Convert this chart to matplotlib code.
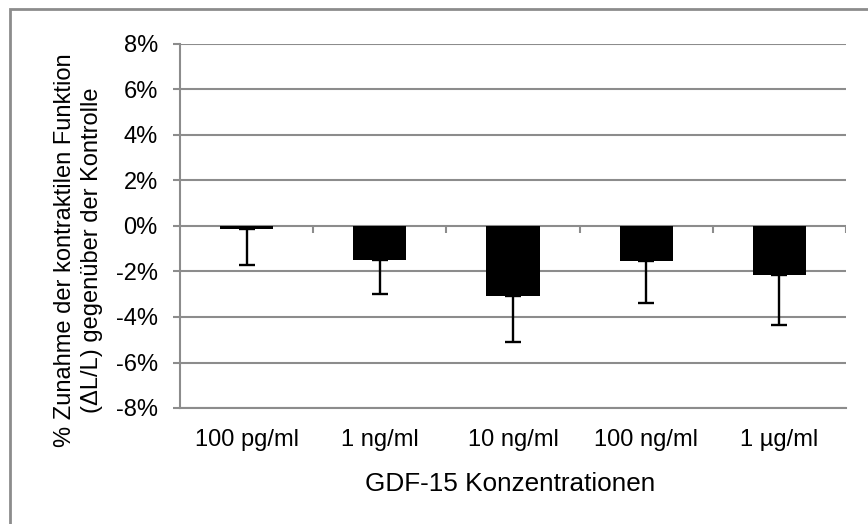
import matplotlib
matplotlib.use("Agg")
from matplotlib import pyplot as plt
from matplotlib.patches import Rectangle
from matplotlib.ticker import FuncFormatter, MultipleLocator
import numpy as np

plt.rcParams['font.family'] = ['Liberation Sans', 'DejaVu Sans']

# Änderung der kontraktilen Funktion je GDF-15 Konzentration (in %)
konzentrationen = ["100 pg/ml", "1 ng/ml", "10 ng/ml", "100 ng/ml", "1 µg/ml"]
mittelwerte = [-0.13, -1.49, -3.08, -1.53, -2.15]
fehler = [1.58, 1.49, 2.04, 1.86, 2.22]

grau = "#8c8c8c"

fig = plt.figure(figsize=(8.68, 5.24), dpi=100)
ax = fig.add_axes([180/868, 1-408/524, 666/868, 364/524])

x = np.arange(1, len(konzentrationen)+1)
yerr = np.vstack([fehler, np.zeros(len(fehler))])
ax.bar(x, mittelwerte, width=0.4, color="black", zorder=3)
ax.errorbar(x, mittelwerte, yerr=yerr, fmt="none", ecolor="black",
            elinewidth=1.7, capsize=5.5, capthick=1.7, zorder=4)

ax.set_xlim(0.5, len(konzentrationen)+0.5)
ax.set_ylim(-8, 8)
ax.yaxis.set_major_locator(MultipleLocator(2))
ax.yaxis.set_major_formatter(FuncFormatter(lambda v, p: "{:.0f}%".format(v)))
ax.grid(axis="y", color=grau, linewidth=1.5, zorder=0)
ax.set_axisbelow(True)

# Trennstriche zwischen den Kategorien auf der Nulllinie
grenzen = np.arange(1.5, len(konzentrationen)+1, 1.0)
ax.vlines(grenzen, -0.3, 0, color=grau, linewidth=1.5, zorder=2)

ax.set_xticks(x)
ax.set_xticklabels(konzentrationen)
ax.tick_params(axis="x", length=0, pad=15, labelsize=17)
ax.tick_params(axis="y", length=5, width=1.5, color=grau, pad=11, labelsize=17)

for s in ["top", "right"]:
    ax.spines[s].set_visible(False)
for s in ["left", "bottom"]:
    ax.spines[s].set_color(grau)
    ax.spines[s].set_linewidth(1.5)

fig.text(510/868, 1-484/524, "GDF-15 Konzentrationen", ha="center", va="center", fontsize=18.8)
fig.text(65/868, 1-250/524, "% Zunahme der kontraktilen Funktion", rotation=90,
         ha="center", va="center", fontsize=17)
fig.text(92/868, 1-250/524, "(ΔL/L) gegenüber der Kontrolle", rotation=90,
         ha="center", va="center", fontsize=17)

# Rahmen um das Diagramm
fig.patches.append(Rectangle((10/868, -0.1), 1.2, 1-9/524+0.1, transform=fig.transFigure,
                             fill=False, edgecolor=grau, linewidth=2))

fig.savefig("out.png", dpi=100)
